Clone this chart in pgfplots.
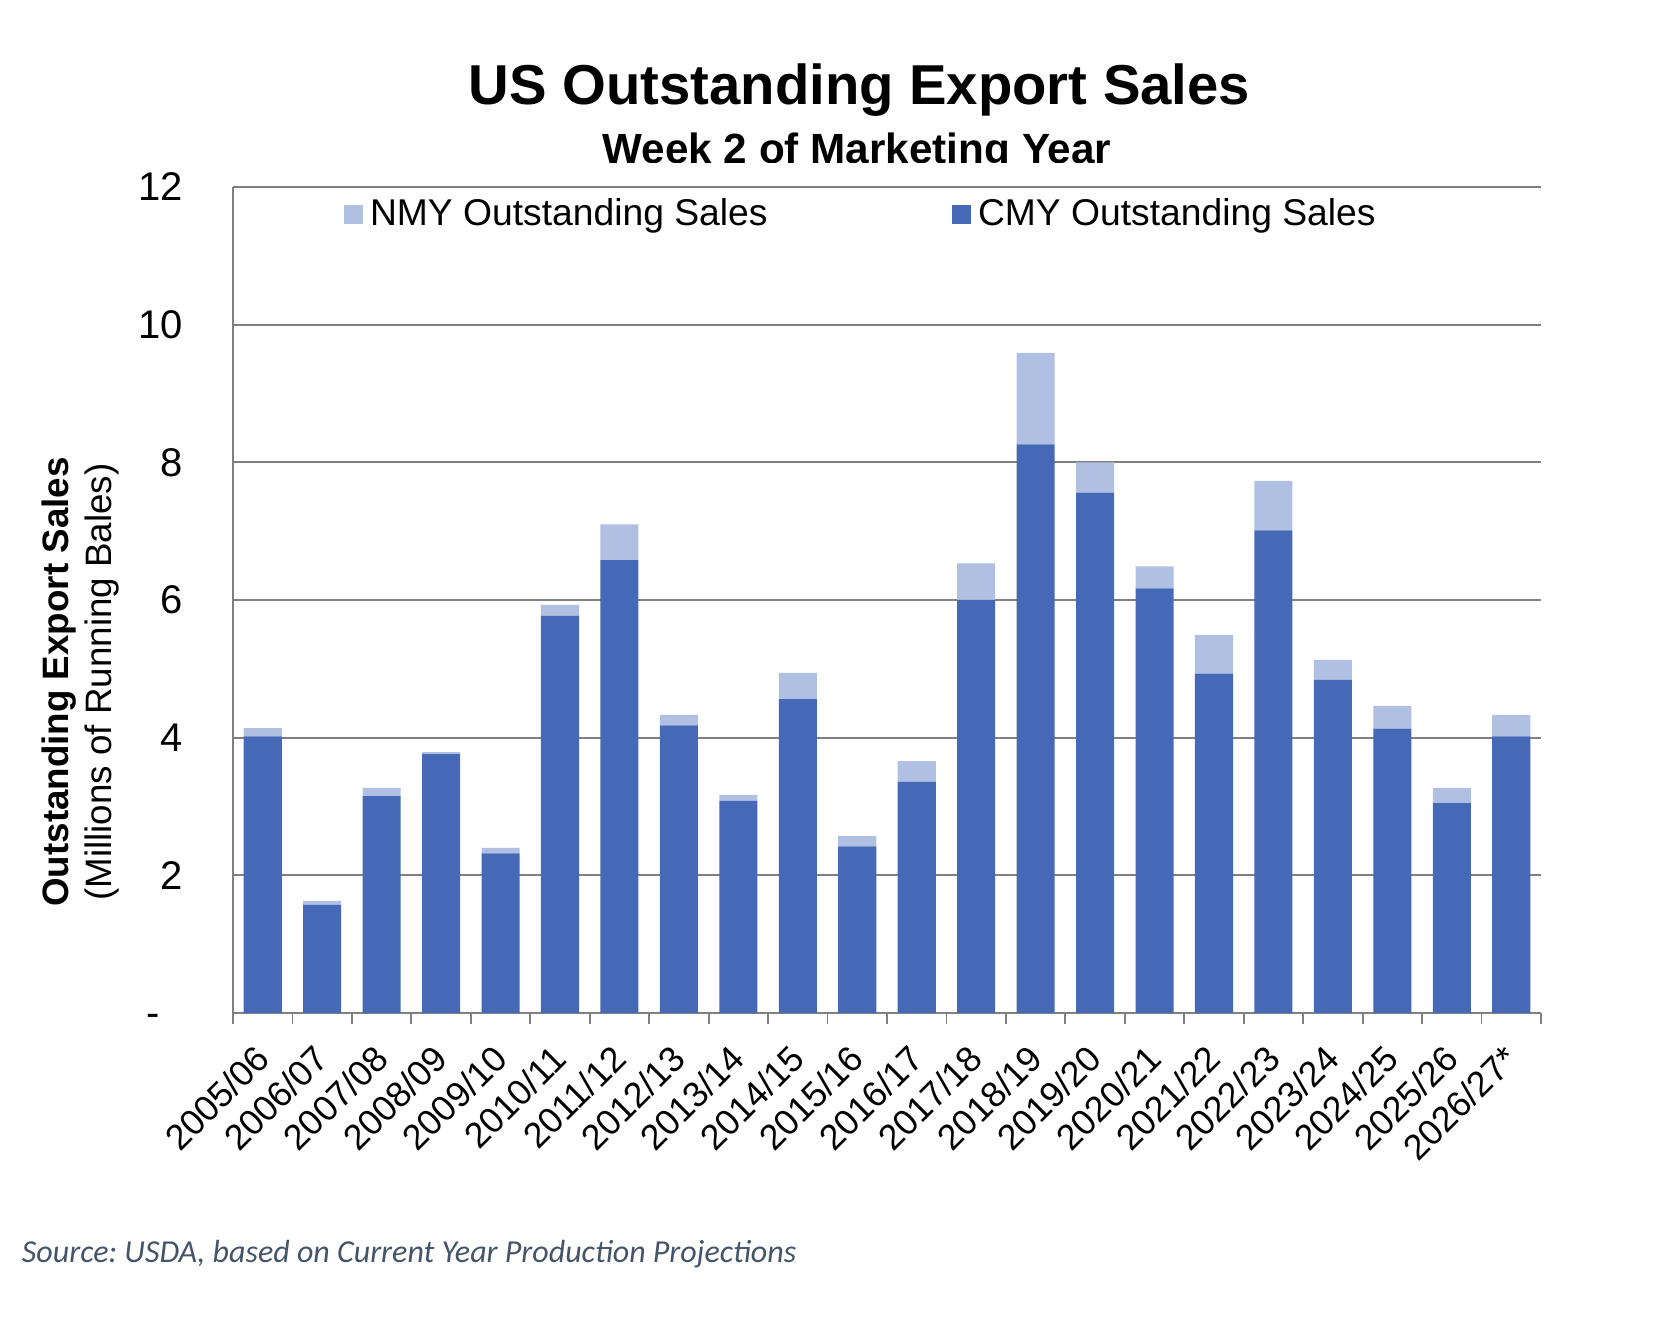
\documentclass[border=0pt]{standalone}
\usepackage{pgfplots}
\pgfplotsset{compat=1.18}
\usepackage{fontspec}
\setmainfont{Liberation Sans}
\newfontfamily\calibri{Carlito}
\definecolor{cmy}{RGB}{69,104,183}
\definecolor{nmy}{RGB}{175,192,226}
\definecolor{gridgray}{RGB}{128,128,128}
\definecolor{srccol}{RGB}{68,84,106}
\frenchspacing
\begin{document}
\begin{tikzpicture}
\path[use as bounding box] (0,0) rectangle (670.4pt,534.4pt);
\begin{axis}[
  at={(93.2pt,129.2pt)}, anchor=south west,
  scale only axis, width=523.2pt, height=330.4pt,
  ybar stacked, bar width=0.64,
  xmin=-0.5, xmax=21.5, ymin=0, ymax=12,
  ytick={0,2,...,12},
  yticklabels={-\phantom{0},2,4,6,8,10,12},
  xtick={0,...,21},
  xticklabels={2005/06,2006/07,2007/08,2008/09,2009/10,2010/11,2011/12,2012/13,2013/14,2014/15,2015/16,2016/17,2017/18,2018/19,2019/20,2020/21,2021/22,2022/23,2023/24,2024/25,2025/26,2026/27*},
  major tick length=0pt,
  extra x ticks={-0.5,0.5,...,21.5}, extra x tick labels={},
  extra x tick style={major tick length=4.3pt, tick align=outside, grid=none},
  axis x line*=bottom, axis y line*=left,
  axis line style={draw=gridgray, line width=0.7pt, -},
  ymajorgrids, grid style={draw=gridgray, line width=0.7pt},
  tick style={draw=gridgray, line width=0.7pt},
  yticklabel style={font=\fontsize{16}{19}\selectfont, anchor=east, inner sep=0pt, xshift=-20pt},
  xticklabel style={font=\fontsize{14.3}{17}\selectfont, yshift=-15.6pt, rotate=45, anchor=east, inner sep=0pt},
  ylabel={\textbf{Outstanding Export Sales}\\(Millions of Running Bales)},
  ylabel style={at={(axis description cs:-0.1166,0.4007)}, anchor=center, align=center, font=\fontsize{14.7}{17.2}\selectfont},
  legend style={at={(axis description cs:0.0849,0.9864)}, anchor=north west, draw=none, fill=none,
    inner sep=0pt, outer sep=0pt, legend columns=2, font=\fontsize{14.9}{17}\selectfont,
    nodes={inner xsep=3pt, inner ysep=0pt},
    /tikz/every even column/.append style={column sep=70.8pt}},
  legend cell align=left,
  reverse legend,
]
\addplot[fill=cmy, draw=none, legend image code/.code={\fill[cmy] (0pt,-4.1pt) rectangle (7.4pt,3.3pt);}] coordinates {
(0,4.02) (1,1.57) (2,3.15) (3,3.76) (4,2.32) (5,5.77) (6,6.58) (7,4.18) (8,3.08) (9,4.56) (10,2.42)
(11,3.36) (12,6.00) (13,8.26) (14,7.56) (15,6.17) (16,4.93) (17,7.01) (18,4.84) (19,4.13) (20,3.05) (21,4.02)};
\addlegendentry{CMY Outstanding Sales}
\addplot[fill=nmy, draw=none, legend image code/.code={\fill[nmy] (0pt,-4.1pt) rectangle (7.4pt,3.3pt);}] coordinates {
(0,0.12) (1,0.06) (2,0.12) (3,0.03) (4,0.08) (5,0.16) (6,0.52) (7,0.15) (8,0.09) (9,0.38) (10,0.15)
(11,0.30) (12,0.53) (13,1.33) (14,0.44) (15,0.32) (16,0.56) (17,0.72) (18,0.29) (19,0.33) (20,0.22) (21,0.31)};
\addlegendentry{NMY Outstanding Sales}
\end{axis}
\node[anchor=base, inner sep=0pt, font=\bfseries\fontsize{22.5}{27}\selectfont] at (343.8pt,492.4pt) {US Outstanding Export Sales};
\begin{scope}
\clip (0pt,469.5pt) rectangle (670.4pt,534.4pt);
\node[anchor=base, inner sep=0pt, font=\bfseries\fontsize{16.9}{20}\selectfont] at (342.8pt,468.8pt) {Week 2 of Marketing Year};
\end{scope}
\node[anchor=base west, inner sep=0pt, font=\calibri\itshape\fontsize{12.8}{15}\selectfont, text=srccol] at (8.6pt,29.2pt) {Source: USDA, based on Current Year Production Projections};
\end{tikzpicture}
\end{document}
